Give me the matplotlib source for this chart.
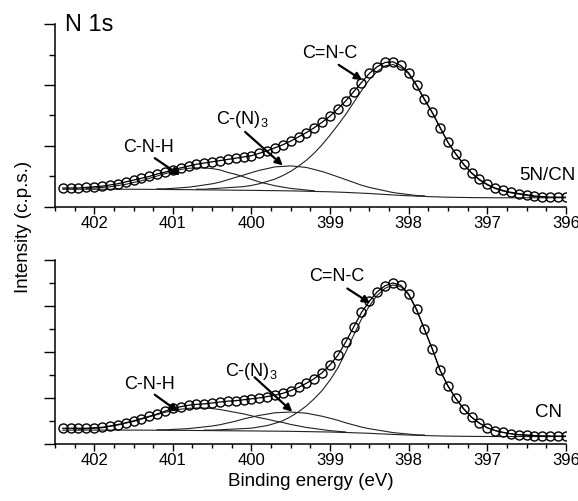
import numpy as np
import matplotlib.pyplot as plt
from matplotlib.ticker import MultipleLocator, NullFormatter

plt.rcParams['font.family'] = ['Liberation Sans', 'DejaVu Sans']
plt.rcParams['mathtext.fontset'] = 'custom'
plt.rcParams['mathtext.rm'] = 'Liberation Sans'

# binding energy of the recorded points (eV), 0.1 eV step
energies = np.round(402.4 - 0.1 * np.arange(65), 1)

# ---- 5N/CN sample (upper panel) ----
top_counts = [0.31, 0.31, 0.31, 0.32, 0.33, 0.34, 0.36, 0.38, 0.41, 0.44,
              0.47, 0.50, 0.54, 0.57, 0.61, 0.64, 0.67, 0.70, 0.72, 0.74,
              0.76, 0.78, 0.80, 0.82, 0.84, 0.88, 0.92, 0.97, 1.02, 1.08,
              1.15, 1.22, 1.30, 1.39, 1.49, 1.61, 1.74, 1.89, 2.04, 2.19,
              2.30, 2.37, 2.38, 2.32, 2.20, 2.00, 1.77, 1.55, 1.30, 1.06,
              0.87, 0.70, 0.56, 0.45, 0.37, 0.31, 0.27, 0.24, 0.22, 0.20,
              0.18, 0.17, 0.16, 0.16, 0.16]
top_background = [0.29, 0.29, 0.29, 0.29, 0.29, 0.29, 0.29, 0.29, 0.29, 0.29,
                  0.289, 0.288, 0.287, 0.286, 0.285, 0.284, 0.283, 0.281, 0.280, 0.279,
                  0.277, 0.276, 0.274, 0.273, 0.272, 0.270, 0.268, 0.267, 0.265, 0.263,
                  0.260, 0.257, 0.254, 0.251, 0.248, 0.243, 0.238, 0.232, 0.226, 0.220,
                  0.212, 0.204, 0.196, 0.189, 0.183, 0.177, 0.172, 0.167, 0.163, 0.159,
                  0.157, 0.155, 0.153, 0.152, 0.151, 0.15, 0.15, 0.15, 0.15, 0.15,
                  0.15, 0.15, 0.15, 0.15, 0.15]
# fitted components, height above background, listed from their first energy
top_cnh_start = 402.1
top_cnh = [0.01, 0.02, 0.03, 0.04, 0.06, 0.08, 0.11, 0.14, 0.18, 0.22,
           0.26, 0.29, 0.33, 0.35, 0.36, 0.36, 0.35, 0.33, 0.29, 0.26,
           0.22, 0.18, 0.14, 0.11, 0.08, 0.06, 0.04, 0.03, 0.02, 0.01]
top_cn3_start = 401.2
top_cn3 = [0.01, 0.01, 0.02, 0.03, 0.04, 0.06, 0.08, 0.10, 0.13, 0.17,
           0.21, 0.25, 0.29, 0.33, 0.36, 0.39, 0.40, 0.41, 0.40, 0.39,
           0.36, 0.33, 0.29, 0.25, 0.21, 0.17, 0.13, 0.10, 0.08, 0.06,
           0.04, 0.03, 0.02, 0.01, 0.01]
top_cnc_start = 400.7
top_cnc = [0.01, 0.01, 0.02, 0.03, 0.04, 0.05, 0.06, 0.08, 0.11, 0.15,
           0.19, 0.25, 0.32, 0.41, 0.51, 0.63, 0.77, 0.93, 1.10, 1.28,
           1.48, 1.68, 1.87, 2.01, 2.11, 2.14, 2.10, 2.00, 1.81, 1.59,
           1.38, 1.14, 0.90, 0.71, 0.54, 0.40, 0.29, 0.21, 0.15, 0.11,
           0.08, 0.06, 0.04, 0.02, 0.01]

# ---- CN sample (lower panel) ----
bot_counts = [0.34, 0.34, 0.34, 0.34, 0.35, 0.36, 0.39, 0.42, 0.46, 0.50,
              0.55, 0.60, 0.65, 0.71, 0.77, 0.81, 0.84, 0.86, 0.87, 0.89,
              0.91, 0.93, 0.94, 0.96, 0.98, 1.00, 1.03, 1.06, 1.10, 1.16,
              1.23, 1.32, 1.42, 1.55, 1.72, 1.93, 2.22, 2.54, 2.86, 3.10,
              3.31, 3.44, 3.50, 3.45, 3.26, 2.93, 2.50, 2.07, 1.60, 1.26,
              0.99, 0.76, 0.58, 0.45, 0.35, 0.29, 0.25, 0.22, 0.20, 0.19,
              0.18, 0.17, 0.17, 0.17, 0.17]
bot_background = [0.30, 0.30, 0.30, 0.30, 0.30, 0.30, 0.30, 0.30, 0.30, 0.30,
                  0.299, 0.298, 0.297, 0.296, 0.295, 0.294, 0.293, 0.291, 0.290, 0.289,
                  0.287, 0.286, 0.284, 0.283, 0.282, 0.280, 0.278, 0.277, 0.275, 0.273,
                  0.270, 0.267, 0.264, 0.261, 0.258, 0.253, 0.248, 0.242, 0.236, 0.230,
                  0.222, 0.214, 0.206, 0.199, 0.193, 0.187, 0.182, 0.177, 0.173, 0.169,
                  0.167, 0.165, 0.163, 0.162, 0.161, 0.16, 0.16, 0.16, 0.16, 0.16,
                  0.16, 0.16, 0.16, 0.16, 0.16]
bot_cnh_start = 402.2
bot_cnh = [0.01, 0.03, 0.04, 0.05, 0.08, 0.11, 0.15, 0.19, 0.24, 0.29,
           0.34, 0.39, 0.43, 0.46, 0.48, 0.49, 0.49, 0.48, 0.46, 0.43,
           0.40, 0.37, 0.33, 0.29, 0.26, 0.22, 0.19, 0.15, 0.12, 0.09,
           0.07, 0.05, 0.03, 0.02, 0.01]
bot_cn3_start = 401.2
bot_cn3 = [0.01, 0.01, 0.02, 0.03, 0.04, 0.06, 0.08, 0.10, 0.13, 0.17,
           0.21, 0.26, 0.30, 0.34, 0.37, 0.40, 0.41, 0.42, 0.41, 0.40,
           0.37, 0.34, 0.30, 0.26, 0.21, 0.17, 0.13, 0.10, 0.08, 0.06,
           0.04, 0.03, 0.02, 0.01, 0.01]
bot_cnc_start = 400.6
bot_cnc = [0.01, 0.01, 0.02, 0.03, 0.04, 0.05, 0.06, 0.09, 0.12, 0.17,
           0.23, 0.32, 0.43, 0.56, 0.72, 0.90, 1.13, 1.40, 1.75, 2.12,
           2.48, 2.77, 3.01, 3.17, 3.25, 3.22, 3.05, 2.73, 2.31, 1.89,
           1.43, 1.09, 0.82, 0.60, 0.42, 0.29, 0.19, 0.13, 0.09, 0.06,
           0.04, 0.03, 0.02, 0.01, 0.01]

x_ticks = [402, 401, 400, 399, 398, 397, 396]


def component(start, heights, background):
    """Returns energies and absolute intensity of one fitted peak."""
    i0 = int(round((energies[0] - start) / 0.1))
    e = energies[i0:i0 + len(heights)]
    y = np.array(background[i0:i0 + len(heights)]) + np.array(heights)
    return e, y


def draw_panel(ax, counts, background, comps, ymax, sample, labels):
    ax.plot(energies, background, color='#222222', lw=0.8)
    for start, h in comps:
        e, y = component(start, h, background)
        ax.plot(e, y, color='#222222', lw=0.8)
    ax.plot(energies, counts, color='k', lw=0.9)  # envelope of the fit
    ax.plot(energies, counts, 'o', mfc='none', mec='k', ms=6.5, mew=1.0)  # measured points

    ax.set_xlim(402.5, 396)
    ax.set_ylim(0, ymax)
    ax.set_xticks(x_ticks)
    ax.xaxis.set_minor_locator(MultipleLocator(0.25))
    ax.yaxis.set_major_locator(MultipleLocator(1))
    ax.yaxis.set_minor_locator(MultipleLocator(0.5))
    ax.yaxis.set_major_formatter(NullFormatter())
    ax.tick_params(axis='x', which='major', direction='out', length=5, width=1, labelsize=12, pad=1.5)
    ax.tick_params(axis='x', which='minor', direction='out', length=3, width=1)
    ax.tick_params(axis='y', which='major', direction='out', length=8, width=1)
    ax.tick_params(axis='y', which='minor', direction='out', length=4, width=1)
    for side in ['top', 'right']:
        ax.spines[side].set_visible(False)
    for side in ['left', 'bottom']:
        ax.spines[side].set_linewidth(1.1)

    # peak labels with arrows
    for text, pos, tail, tip in labels:
        ax.text(pos[0], pos[1], text, fontsize=13, ha='center', va='center')
        ax.annotate('', xy=tip, xytext=tail,
                    arrowprops=dict(arrowstyle='-|>', color='k', lw=1.6,
                                    mutation_scale=11, shrinkA=0, shrinkB=0))
    ax.text(sample[1], sample[2], sample[0], fontsize=13.5, ha='center', va='center')


fig = plt.figure(figsize=(5.78, 5.01), dpi=100)
ax_top = fig.add_axes([0.095, 0.587, 0.884, 0.365])
ax_bot = fig.add_axes([0.095, 0.114, 0.884, 0.367])

draw_panel(ax_top, top_counts, top_background,
           [(top_cnh_start, top_cnh), (top_cn3_start, top_cn3), (top_cnc_start, top_cnc)],
           3, ('5N/CN', 396.23, 0.52),
           [('C=N-C', (399.0, 2.52), (398.89, 2.33), (398.59, 2.08)),
            ('C-(N)$_3$', (400.12, 1.43), (400.08, 1.23), (399.60, 0.68)),
            ('C-N-H', (401.31, 0.97), (401.23, 0.80), (400.91, 0.52))])
ax_top.text(402.37, 2.98, 'N 1s', fontsize=17, ha='left', va='center')

draw_panel(ax_bot, bot_counts, bot_background,
           [(bot_cnh_start, bot_cnh), (bot_cn3_start, bot_cn3), (bot_cnc_start, bot_cnc)],
           4, ('CN', 396.22, 0.69),
           [('C=N-C', (398.91, 3.64), (398.78, 3.38), (398.49, 3.06)),
            ('C-(N)$_3$', (400.0, 1.57), (399.96, 1.45), (399.48, 0.70)),
            ('C-N-H', (401.30, 1.30), (401.23, 1.07), (400.93, 0.70))])

fig.text(0.537, 0.038, 'Binding energy (eV)', fontsize=13.5, ha='center', va='center')
fig.text(0.04, 0.547, 'Intensity (c.p.s.)', fontsize=13.5, ha='center', va='center', rotation=90)

fig.savefig('out.png', dpi=100)
